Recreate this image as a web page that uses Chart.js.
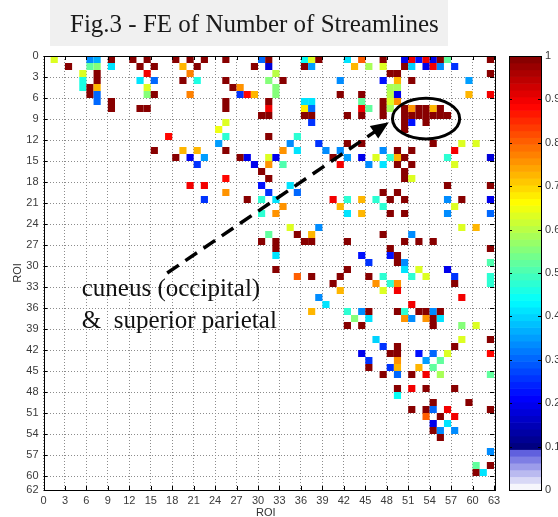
<!DOCTYPE html>
<html>
<head>
<meta charset="utf-8">
<title>FE of Number of Streamlines</title>
<script src="https://cdn.jsdelivr.net/npm/chart.js@4.4.0/dist/chart.umd.min.js"></script>
<style>
  html, body { margin: 0; padding: 0; background: #fff; }
  #wrap { position: relative; width: 558px; height: 517px; overflow: hidden; }
</style>
</head>
<body>
<div id="wrap"><canvas id="fe" width="558" height="517"></canvas></div>
<script>
// non-empty cells of the ROI x ROI matrix: [row, col, FE value]
const cells = [
  [0,1,0.63],[0,6,0.33],[0,7,0.36],[0,9,1],[0,12,1],[0,14,1],[0,18,1],[0,20,1],[0,22,1],[0,25,1],[0,30,0.3],[0,31,1],
  [0,36,0.45],[0,37,0.63],[0,38,1],[0,42,0.42],[0,44,0.8],[0,47,1],[0,50,0.2],[0,51,0.9],[0,52,0.22],[0,53,0.9],[0,54,0.2],[0,55,1],[0,56,0.52],[0,62,1],
  [1,3,1],[1,6,0.52],[1,7,0.55],[1,9,0.42],[1,13,1],[1,15,1],[1,19,0.72],[1,21,1],[1,29,1],[1,31,0.18],
  [1,36,1],[1,37,0.35],[1,43,0.72],[1,45,0.58],[1,47,0.63],[1,50,1],[1,51,0.4],[1,53,0.2],[1,54,0.9],[1,55,0.33],[1,57,0.25],
  [2,5,0.63],[2,7,1],[2,14,0.9],[2,20,0.78],[2,32,0.6],[2,48,1],[2,49,1],[2,62,1],
  [3,5,0.46],[3,7,1],[3,13,0.42],[3,15,0.3],[3,19,1],[3,21,0.46],[3,25,1],[3,31,0.55],[3,33,1],[3,41,0.33],[3,47,0.22],[3,49,0.72],[3,51,1],[3,59,0.35],
  [4,5,0.46],[4,6,1],[4,7,0.72],[4,14,0.63],[4,26,1],[4,27,0.75],[4,32,0.55],[4,48,0.58],[4,49,0.58],
  [5,6,1],[5,7,0.3],[5,14,0.55],[5,15,1],[5,20,0.78],[5,27,0.25],[5,28,0.88],[5,29,0.72],[5,32,0.55],[5,41,1],[5,44,1],[5,48,0.6],[5,49,0.2],[5,59,0.72],[5,62,0.9],
  [6,7,0.3],[6,9,1],[6,25,1],[6,31,1],[6,36,0.42],[6,37,0.42],[6,44,0.52],[6,47,1],[6,48,0.63],[6,49,0.75],
  [7,9,1],[7,13,1],[7,14,1],[7,25,1],[7,31,0.9],[7,36,0.68],[7,37,0.3],[7,44,0.9],[7,45,0.52],[7,47,1],[7,48,0.58],
  [7,50,1],[7,51,0.75],[7,52,1],[7,53,1],[7,54,0.72],[7,55,1],
  [8,30,1],[8,31,1],[8,36,1],[8,37,1],[8,42,1],[8,44,1],[8,47,1],[8,50,1],[8,51,1],[8,52,1],[8,53,1],[8,54,1],[8,55,1],[8,56,1],
  [9,25,0.63],[9,37,0.25],[9,50,1],[9,51,0.22],[9,53,1],
  [10,24,0.65],[10,50,1],
  [11,17,0.88],[11,25,0.47],[11,31,1],[11,35,0.47],
  [12,24,0.35],[12,34,0.33],[12,38,0.25],[12,42,1],[12,44,1],[12,54,1],[12,58,0.63],[12,60,0.63],
  [13,15,1],[13,19,0.72],[13,21,0.72],[13,25,1],[13,33,0.75],[13,35,0.42],[13,39,0.33],[13,41,0.33],[13,47,0.33],[13,49,1],[13,51,1],[13,57,0.9],
  [14,18,1],[14,20,0.2],[14,22,0.35],[14,27,1],[14,28,0.2],[14,31,0.63],[14,32,0.2],[14,40,1],[14,42,0.35],[14,44,0.2],[14,46,0.63],[14,48,0.47],[14,49,0.72],[14,50,1],[14,56,0.47],[14,62,0.18],
  [15,21,0.25],[15,29,0.2],[15,31,0.75],[15,33,0.5],[15,41,0.9],[15,45,0.33],[15,47,0.42],[15,49,1],[15,51,1],[15,57,0.63],
  [16,30,1],[16,50,1],
  [17,25,0.88],[17,31,1],[17,50,1],[17,51,0.63],
  [18,20,0.9],[18,22,0.9],[18,30,0.22],[18,34,0.42],[18,56,1],[18,62,1],
  [19,25,0.75],[19,31,0.25],[19,35,0.3],[19,47,1],[19,49,1],
  [20,22,0.25],[20,28,1],[20,30,0.47],[20,32,0.42],[20,40,0.9],[20,42,0.47],[20,44,0.72],[20,46,0.47],[20,48,1],[20,50,1],[20,56,0.33],[20,58,1],[20,62,0.2],
  [21,33,0.75],[21,41,0.72],[21,47,0.47],[21,57,0.63],
  [22,30,0.47],[22,32,0.75],[22,42,0.42],[22,44,0.72],[22,48,1],[22,50,1],[22,56,0.33],[22,62,0.3],
  [24,34,0.63],[24,38,0.33],[24,58,0.63],[24,60,0.72],
  [25,31,0.52],[25,35,1],[25,37,0.72],[25,47,1],[25,51,0.33],
  [26,30,1],[26,32,1],[26,36,1],[26,37,1],[26,42,1],[26,50,1],[26,52,1],[26,54,1],
  [27,32,1],[27,48,1],[27,62,1],
  [28,32,0.42],[28,44,0.22],[28,48,0.22],[28,49,1],
  [29,45,0.25],[29,49,1],[29,50,0.33],[29,62,0.5],
  [30,32,1],[30,42,1],[30,50,0.42],[30,52,0.63],[30,56,0.2],
  [31,35,0.8],[31,37,1],[31,41,1],[31,45,1],[31,47,0.47],[31,51,0.47],[31,53,0.63],[31,57,0.25],[31,62,0.47],
  [32,40,1],[32,46,0.75],[32,48,0.47],[32,49,0.75],[32,57,1],[32,62,0.47],
  [33,41,0.72],[33,47,0.63],[33,49,0.9],
  [34,38,0.33],[34,58,0.9],
  [35,39,0.42],[35,51,0.9],
  [36,37,0.72],[36,42,0.47],[36,44,0.33],[36,45,1],[36,49,1],[36,50,0.47],[36,52,1],[36,53,1],[36,54,0.33],[36,55,1],
  [37,43,0.55],[37,45,0.42],[37,50,0.75],[37,51,0.33],[37,53,0.75],[37,54,1],[37,55,0.42],
  [38,42,1],[38,44,1],[38,54,1],[38,58,0.55],[38,60,0.63],
  [40,46,0.4],[40,58,0.63],[40,62,1],
  [41,47,0.25],[41,49,1],[41,57,1],
  [42,44,0.2],[42,48,1],[42,49,1],[42,52,0.22],[42,54,0.3],[42,56,0.63],[42,62,0.88],
  [43,45,0.25],[43,49,0.75],[43,53,0.35],[43,55,0.52],
  [44,45,1],[44,48,0.25],[44,49,0.72],[44,52,0.72],[44,54,0.52],
  [45,47,1],[45,49,0.3],[45,51,1],[45,53,0.9],[45,55,0.58],[45,62,0.52],
  [47,49,1],[47,51,0.9],[47,53,1],[47,57,1],
  [48,49,0.45],
  [49,54,1],[49,59,1],
  [50,51,1],[50,53,1],[50,54,0.3],[50,56,0.9],[50,62,1],
  [51,53,0.8],[51,55,1],[51,57,0.9],
  [52,54,0.2],[52,56,0.42],
  [53,54,1],[53,55,0.33],[53,57,0.33],
  [54,55,1],
  [56,62,0.33],
  [58,60,0.52],[58,62,1],
  [59,60,1],[59,61,0.42]
];

const xTicks = [0,3,6,9,12,15,18,21,24,27,30,33,36,39,42,45,48,51,54,57,60,63];
const yTicks = [0,3,6,9,12,15,18,21,24,27,30,33,36,39,42,45,48,51,54,57,60,62];
const colorbarTicks = [0,0.1,0.2,0.3,0.4,0.5,0.6,0.7,0.8,0.9,1];

const titleText = 'Fig.3 - FE of Number of Streamlines';
const noteLines = ['cuneus (occipital)', '&  superior parietal'];

// 64 step colormap: pale violet ramp up to 0.1, then jet
function jet(t) {
    const c = x => Math.round(255 * Math.max(0, Math.min(1, x)));
    return [c(1.5 - Math.abs(4 * t - 3)), c(1.5 - Math.abs(4 * t - 2)), c(1.5 - Math.abs(4 * t - 1))];
}
function mapColor(k) {
    const mid = (k + 0.5) / 64;
    if (mid < 0.1) {
        const s = k / 5;
        return `rgb(${Math.round(246 - s * 150)},${Math.round(246 - s * 150)},${Math.round(252 - s * 30)})`;
    }
    const [r, g, b] = jet((mid - 0.1) / 0.9);
    return `rgb(${r},${g},${b})`;
}
function colorOf(v) {
    return mapColor(Math.min(63, Math.floor(v * 64)));
}

const tickFont = { family: '"Liberation Sans", Arial, sans-serif', size: 11 };
const serif = '"Liberation Serif", "Times New Roman", serif';

// fixed box sizes, and no label overhang pushing the plot area around
function fixBox(size) {
    return s => {
        if (s.isHorizontal()) s.height = size; else s.width = size;
        s.paddingTop = 0; s.paddingBottom = 0; s.paddingLeft = 0; s.paddingRight = 0;
    };
}

const decor = {
    id: 'decor',
    beforeDraw(chart) {
        const ctx = chart.ctx;
        ctx.save();
        ctx.fillStyle = '#fff';
        ctx.fillRect(0, 0, chart.width, chart.height);
        // title box
        ctx.fillStyle = '#f0f0f0';
        ctx.fillRect(50, 0, 398, 46);
        ctx.fillStyle = '#1a1a1a';
        ctx.font = '25px ' + serif;
        ctx.textBaseline = 'alphabetic';
        ctx.fillText(titleText, 70, 32);
        ctx.restore();
    },
    afterDraw(chart) {
        const ctx = chart.ctx;
        const a = chart.chartArea;
        const xs = chart.scales.x, ys = chart.scales.y, cb = chart.scales.cb;
        ctx.save();

        // plot box + inward ticks
        ctx.strokeStyle = '#000';
        ctx.lineWidth = 1;
        ctx.strokeRect(Math.round(a.left) + 0.5, Math.round(a.top) + 0.5, Math.round(a.right - a.left), Math.round(a.bottom - a.top));
        ctx.beginPath();
        xTicks.forEach(v => {
            const px = Math.round(xs.getPixelForValue(v)) + 0.5;
            ctx.moveTo(px, a.bottom); ctx.lineTo(px, a.bottom - 4);
            ctx.moveTo(px, a.top); ctx.lineTo(px, a.top + 4);
        });
        yTicks.forEach(v => {
            const py = Math.round(ys.getPixelForValue(v)) + 0.5;
            ctx.moveTo(a.left, py); ctx.lineTo(a.left + 4, py);
            ctx.moveTo(a.right, py); ctx.lineTo(a.right - 4, py);
        });
        ctx.stroke();

        // colorbar
        const cbL = 509, cbW = 32;
        for (let k = 0; k < 64; k++) {
            const y1 = cb.getPixelForValue(k / 64);
            const y2 = cb.getPixelForValue((k + 1) / 64);
            ctx.fillStyle = mapColor(k);
            ctx.fillRect(cbL, y2, cbW, y1 - y2 + 0.6);
        }
        ctx.strokeStyle = '#000';
        ctx.strokeRect(cbL + 0.5, Math.round(cb.top) + 0.5, cbW, Math.round(cb.bottom - cb.top));
        ctx.beginPath();
        colorbarTicks.forEach(v => {
            const py = Math.round(cb.getPixelForValue(v)) + 0.5;
            ctx.moveTo(cbL, py); ctx.lineTo(cbL + 3, py);
            ctx.moveTo(cbL + cbW, py); ctx.lineTo(cbL + cbW - 3, py);
        });
        ctx.stroke();

        // axis titles
        ctx.fillStyle = '#333';
        ctx.font = '11px ' + tickFont.family;
        ctx.textAlign = 'center';
        ctx.textBaseline = 'middle';
        ctx.fillText('ROI', (a.left + a.right) / 2 - 3, 513);
        ctx.save();
        ctx.translate(18, (a.top + a.bottom) / 2);
        ctx.rotate(-Math.PI / 2);
        ctx.fillText('ROI', 0, 0);
        ctx.restore();

        // annotation: ellipse round the cuneus block
        ctx.strokeStyle = '#000';
        ctx.lineWidth = 3;
        ctx.beginPath();
        const ex = xs.getPixelForValue(53.5), ey = ys.getPixelForValue(8.95);
        const rx = xs.getPixelForValue(4.7) - xs.getPixelForValue(0);
        const ry = ys.getPixelForValue(2.9) - ys.getPixelForValue(0);
        ctx.ellipse(ex, ey, rx, ry, 0, 0, Math.PI * 2);
        ctx.stroke();

        // dashed arrow
        const x0 = xs.getPixelForValue(17.3), y0 = ys.getPixelForValue(31.0);
        const tx = xs.getPixelForValue(48.3), ty = ys.getPixelForValue(9.45);
        const len = Math.hypot(tx - x0, ty - y0);
        const ux = (tx - x0) / len, uy = (ty - y0) / len;
        const head = 18, half = 7.5;
        const bx = tx - ux * head, by = ty - uy * head;
        ctx.lineWidth = 3.5;
        ctx.setLineDash([14, 8]);
        ctx.beginPath();
        ctx.moveTo(x0, y0);
        ctx.lineTo(bx + ux * 2, by + uy * 2);
        ctx.stroke();
        ctx.setLineDash([]);
        ctx.fillStyle = '#000';
        ctx.beginPath();
        ctx.moveTo(tx, ty);
        ctx.lineTo(bx - uy * half, by + ux * half);
        ctx.lineTo(bx + uy * half, by - ux * half);
        ctx.closePath();
        ctx.fill();

        // note text
        ctx.fillStyle = '#111';
        ctx.font = '25px ' + serif;
        ctx.textAlign = 'left';
        ctx.textBaseline = 'alphabetic';
        ctx.fillText(noteLines[0], xs.getPixelForValue(5.35), ys.getPixelForValue(34.3));
        ctx.fillText(noteLines[1], xs.getPixelForValue(5.35), ys.getPixelForValue(38.9));

        ctx.restore();
    }
};

new Chart(document.getElementById('fe'), {
    type: 'scatter',
    data: {
        datasets: [{
            data: cells.map(([r, c, v]) => ({ x: c + 0.5, y: r + 0.5, v: v })),
            pointStyle: 'rect',
            pointRadius: ctx => {
                const xs = ctx.chart.scales.x;
                return Math.abs(xs.getPixelForValue(1) - xs.getPixelForValue(0)) / Math.SQRT2;
            },
            backgroundColor: ctx => ctx.raw ? colorOf(ctx.raw.v) : '#000',
            borderWidth: 0
        }]
    },
    options: {
        responsive: false,
        animation: false,
        events: [],
        layout: { padding: { top: 56, left: 0, right: 0, bottom: 0 } },
        plugins: { legend: { display: false }, tooltip: { enabled: false } },
        scales: {
            x: {
                type: 'linear', position: 'bottom', min: 0, max: 63,
                afterFit: fixBox(27),
                afterBuildTicks: s => { s.ticks = xTicks.map(v => ({ value: v })); },
                ticks: { font: tickFont, color: '#3a3a3a', padding: 4, autoSkip: false, maxRotation: 0 },
                grid: { color: '#8c8c8c', lineWidth: 1, drawTicks: false },
                border: { display: false, dash: [1, 2] }
            },
            y: {
                type: 'linear', position: 'left', min: 0, max: 62, reverse: true,
                afterFit: fixBox(43.5),
                afterBuildTicks: s => { s.ticks = yTicks.map(v => ({ value: v })); },
                ticks: { font: tickFont, color: '#3a3a3a', padding: 5, autoSkip: false },
                grid: { color: '#8c8c8c', lineWidth: 1, drawTicks: false },
                border: { display: false, dash: [1, 2] }
            },
            cb: {
                type: 'linear', axis: 'y', position: 'right', min: 0, max: 1,
                afterFit: fixBox(64),
                afterBuildTicks: s => { s.ticks = colorbarTicks.map(v => ({ value: v })); },
                ticks: {
                    font: tickFont, color: '#3a3a3a', padding: 51, autoSkip: false,
                    callback: v => (v === 0 || v === 1) ? String(v) : v.toFixed(1)
                },
                grid: { display: false, drawTicks: false },
                border: { display: false }
            }
        }
    },
    plugins: [decor]
});
</script>
</body>
</html>
